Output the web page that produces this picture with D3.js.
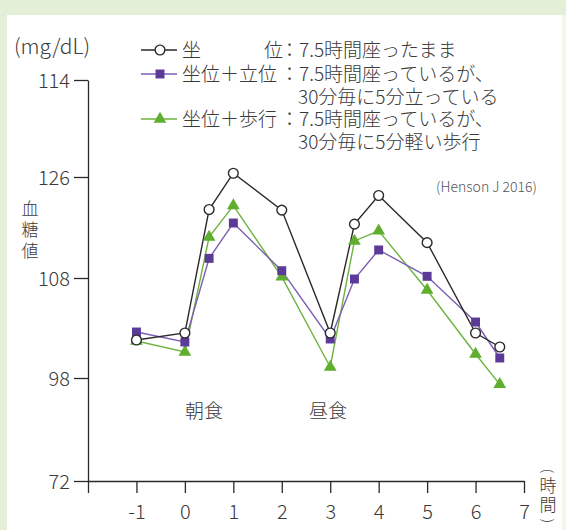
<!DOCTYPE html>
<html>
<head>
<meta charset="utf-8">
<script src="https://cdn.jsdelivr.net/npm/d3@7"></script>
<style>
  body { margin: 0; background: #e4efd7; }
  text { font-family: "Noto Sans CJK JP", "Noto Sans", sans-serif; fill: #3a3a3a; font-weight: 300; }
</style>
</head>
<body>
<div id="chart"></div>
<script>
// hours after start (meal at 0 and 3)
const hours = [-1, 0, 0.5, 1, 2, 3, 3.5, 4, 5, 6, 6.5];
const sitting = [101.8, 102.5, 120.2, 126.7, 120.1, 102.5, 117.6, 122.7, 114.3, 102.5, 101.1];
const sitStand = [102.6, 101.6, 111.5, 117.8, 109.3, 101.9, 107.9, 113.0, 108.3, 103.6, 100.0];
const sitWalk = [101.7, 100.6, 115.3, 120.9, 108.2, 99.1, 114.6, 116.4, 106.8, 100.4, 96.4];

const xTicks = [-2, -1, 0, 1, 2, 3, 4, 5, 6, 7];
const yTickValues = [72, 98, 108, 126, 144];
const yTickLabels = ["72", "98", "108", "126", "114"];

const W = 566, H = 530;
const svg = d3.select("#chart").append("svg").attr("width", W).attr("height", H);

// panel
svg.append("rect").attr("x", 7).attr("y", 15).attr("width", 555).attr("height", H - 15).attr("fill", "#fff");
svg.append("rect").attr("x", 562).attr("y", 15).attr("width", 4).attr("height", H - 15).attr("fill", "#f1f6ec");

const x = d3.scaleLinear().domain([-2, 7]).range([88, 524]);
// axis is not evenly scaled in the original, so use a piecewise scale
const y = d3.scaleLinear().domain(yTickValues).range([481, 378, 278, 177, 80]);

const yAxis = svg.append("g")
  .attr("transform", "translate(88,0)")
  .call(d3.axisLeft(y).tickValues(yTickValues).tickFormat((d, i) => yTickLabels[i]).tickSize(14).tickSizeOuter(0).tickPadding(4));
yAxis.selectAll("text").style("font-size", "20px").attr("dy", "0.35em");

const xAxis = svg.append("g")
  .attr("transform", "translate(0,481)")
  .call(d3.axisBottom(x).tickValues(xTicks).tickFormat(d => d === -2 ? "" : d).tickSize(12).tickSizeOuter(0));
xAxis.selectAll("text").style("font-size", "20px").attr("y", 24).attr("dy", "0.71em");

svg.selectAll(".domain, .tick line").attr("stroke", "#2a2a2a").attr("stroke-width", 1.3);

const series = [
  { name: "sitting", values: sitting, line: "#2a2a2a", symbol: d3.symbolCircle, size: 75, fill: "#fff", stroke: "#2a2a2a" },
  { name: "stand", values: sitStand, line: "#7b5fb0", symbol: d3.symbolSquare, size: 80, fill: "#5b3a98", stroke: "none" },
  { name: "walk", values: sitWalk, line: "#6db33f", symbol: d3.symbolTriangle, size: 70, fill: "#5fae2e", stroke: "none" }
];

const line = d3.line().x(d => x(d[0])).y(d => y(d[1]));

// draw lines first, then markers (walk under stand under sitting)
[series[2], series[1], series[0]].forEach(s => {
  const pts = hours.map((h, i) => [h, s.values[i]]);
  svg.append("path").datum(pts)
    .attr("d", line).attr("fill", "none").attr("stroke", s.line).attr("stroke-width", 1.4);
});
[series[2], series[1], series[0]].forEach(s => {
  const pts = hours.map((h, i) => [h, s.values[i]]);
  svg.append("g").selectAll("path").data(pts).enter().append("path")
    .attr("transform", d => `translate(${x(d[0])},${y(d[1])})`)
    .attr("d", d3.symbol().type(s.symbol).size(s.size))
    .attr("fill", s.fill).attr("stroke", s.stroke).attr("stroke-width", 1.4);
});

// legend
const legendRows = [50, 74, 119];
series.forEach((s, i) => {
  const g = svg.append("g").attr("transform", `translate(0,${legendRows[i]})`);
  g.append("line").attr("x1", 141).attr("x2", 177).attr("stroke", s.line).attr("stroke-width", 1.4);
  g.append("path").attr("transform", "translate(160,0)")
    .attr("d", d3.symbol().type(s.symbol).size(s.size))
    .attr("fill", s.fill).attr("stroke", s.stroke).attr("stroke-width", 1.4);
});

const legendText = [
  { x: 182, y: 50, t: "坐" },
  { x: 264, y: 50, t: "位" },
  { x: 280, y: 50, t: "：7.5時間座ったまま" },
  { x: 182, y: 74, t: "坐位＋立位" },
  { x: 280, y: 74, t: "：7.5時間座っているが、" },
  { x: 298, y: 97, t: "30分毎に5分立っている" },
  { x: 182, y: 119, t: "坐位＋歩行" },
  { x: 280, y: 119, t: "：7.5時間座っているが、" },
  { x: 298, y: 142, t: "30分毎に5分軽い歩行" }
];
svg.append("g").selectAll("text").data(legendText).enter().append("text")
  .attr("x", d => d.x).attr("y", d => d.y).attr("dy", "0.35em")
  .style("font-size", "19px").text(d => d.t);

// other labels
svg.append("text").attr("x", 14).attr("y", 47).attr("dy", "0.35em").style("font-size", "21px").text("(mg/dL)");
["血", "糖", "値"].forEach((c, i) => {
  svg.append("text").attr("x", 30).attr("y", 209 + i * 21).attr("dy", "0.35em")
    .attr("text-anchor", "middle").style("font-size", "17px").text(c);
});
svg.append("text").attr("x", 537).attr("y", 187).attr("dy", "0.35em").attr("text-anchor", "end")
  .style("font-size", "14px").style("fill", "#555").text("(Henson J 2016)");
svg.append("text").attr("x", 204).attr("y", 411).attr("dy", "0.35em").attr("text-anchor", "middle")
  .style("font-size", "19px").text("朝食");
svg.append("text").attr("x", 328).attr("y", 411).attr("dy", "0.35em").attr("text-anchor", "middle")
  .style("font-size", "19px").text("昼食");

// (時間) vertical
const unit = svg.append("g").attr("transform", "translate(548,0)");
unit.append("text").attr("transform", "translate(0,471) rotate(90)").attr("dy", "0.35em")
  .attr("text-anchor", "middle").style("font-size", "14px").text("(");
unit.append("text").attr("x", 0).attr("y", 486).attr("dy", "0.35em").attr("text-anchor", "middle").style("font-size", "17px").text("時");
unit.append("text").attr("x", 0).attr("y", 505).attr("dy", "0.35em").attr("text-anchor", "middle").style("font-size", "17px").text("間");
unit.append("text").attr("transform", "translate(0,521) rotate(90)").attr("dy", "0.35em")
  .attr("text-anchor", "middle").style("font-size", "14px").text(")");
</script>
</body>
</html>
